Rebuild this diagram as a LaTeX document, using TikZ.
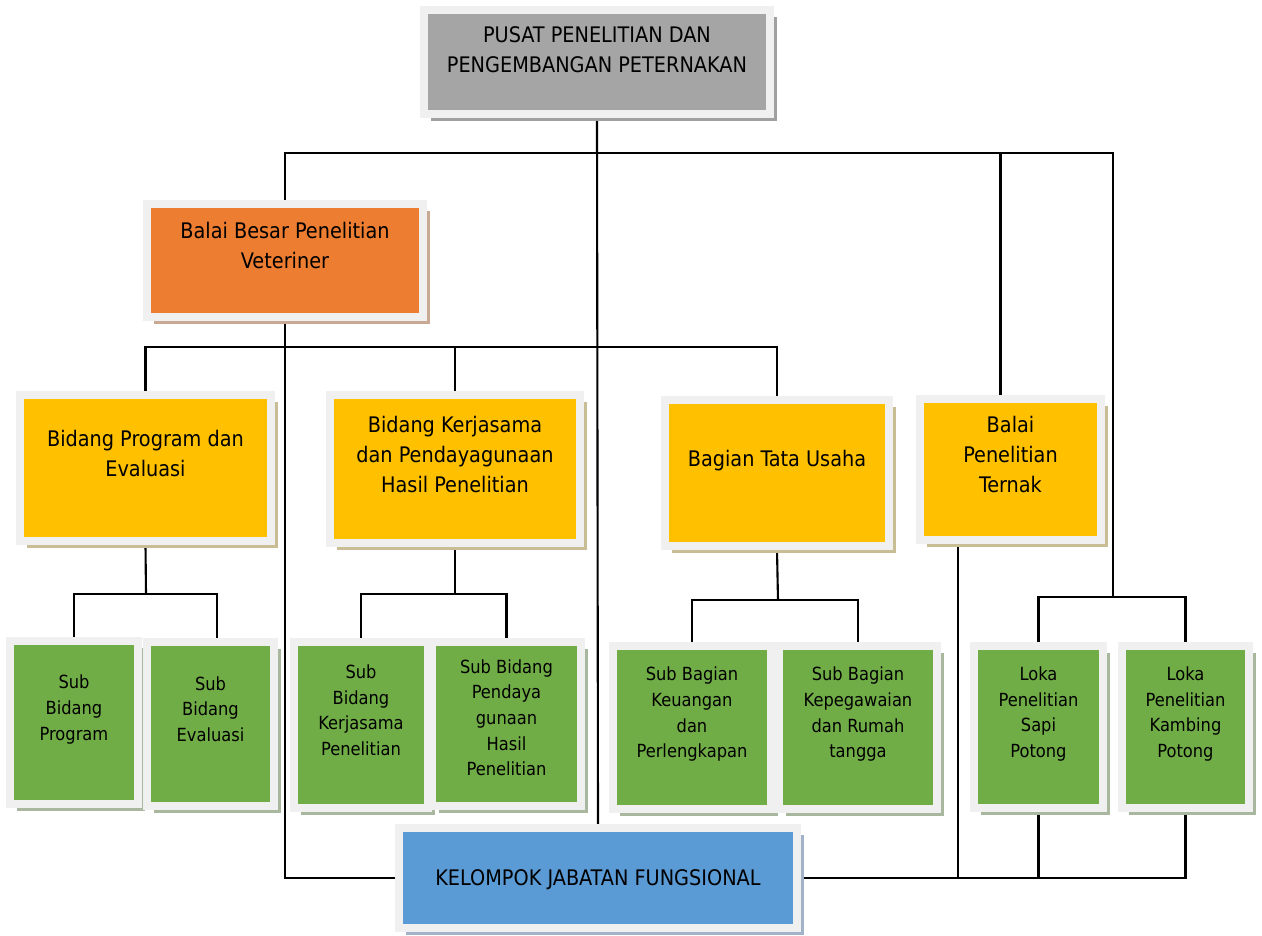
\documentclass[tikz,border=0pt]{standalone}
\usepackage{fontspec}
\setmainfont{DejaVu Sans Condensed}
\usetikzlibrary{positioning,shadows,backgrounds}

\definecolor{headgray}{HTML}{A5A5A5}
\definecolor{vetorange}{HTML}{ED7D31}
\definecolor{bidyellow}{HTML}{FFC000}
\definecolor{subgreen}{HTML}{70AD47}
\definecolor{fungblue}{HTML}{5B9BD5}
\definecolor{framegray}{HTML}{F0F0F0}
\definecolor{grayshade}{HTML}{A0A0A0}
\definecolor{orangeshade}{HTML}{C9A994}
\definecolor{yellowshade}{HTML}{C9BD95}
\definecolor{greenshade}{HTML}{A9B79E}
\definecolor{blueshade}{HTML}{A2B3C9}

\begin{document}
\begin{tikzpicture}[
  x=0.02cm, y=-0.02cm,
  box/.style={rectangle, draw=framegray, line width=0.16cm, align=center,
    inner sep=0pt, text depth=0.6cm,
    drop shadow={shadow xshift=0.14cm, shadow yshift=-0.14cm, fill=#1, opacity=1}},
  bigtext/.style={font=\fontsize{12.2}{17}\selectfont},
  smalltext/.style={font=\fontsize{10.3}{14.6}\selectfont},
  headbox/.style={box=grayshade, fill=headgray, bigtext},
  vetbox/.style={box=orangeshade, fill=vetorange, bigtext},
  bidbox/.style={box=yellowshade, fill=bidyellow, bigtext},
  subbox/.style={box=greenshade, fill=subgreen, smalltext},
  fungbox/.style={box=blueshade, fill=fungblue, bigtext},
  link/.style={draw, line width=1.2pt}
]
\useasboundingbox (0,0) rectangle (1262,936);

% kepala
\node[headbox, minimum width=6.92cm, minimum height=2.08cm, text depth=0.5cm] (pusat) at (597,62)
  {PUSAT PENELITIAN DAN\\PENGEMBANGAN PETERNAKAN};
\node[vetbox, minimum width=5.52cm, minimum height=2.26cm] (bbpv) at (285,260.5)
  {Balai Besar Penelitian\\Veteriner};

% bidang
\node[bidbox, minimum width=5.02cm, minimum height=2.92cm] (bpe) at (145.5,468)
  {Bidang Program dan\\Evaluasi};
\node[bidbox, minimum width=5.0cm, minimum height=2.96cm] (bkh) at (455,469)
  {Bidang Kerjasama\\dan Pendayagunaan\\Hasil Penelitian};
\node[bidbox, minimum width=4.48cm, minimum height=2.92cm] (ttu) at (777,473)
  {Bagian Tata Usaha};
\node[bidbox, minimum width=3.62cm, minimum height=2.82cm] (bpt) at (1010.5,469.5)
  {Balai\\Penelitian\\Ternak};

% sub bidang
\node[subbox, minimum width=2.56cm, minimum height=3.26cm] (sbp) at (74,722.5)
  {Sub\\Bidang\\Program};
\node[subbox, minimum width=2.54cm, minimum height=3.28cm] (sbe) at (210.5,724)
  {Sub\\Bidang\\Evaluasi};
\node[subbox, minimum width=2.68cm, minimum height=3.32cm] (sbk) at (361,725)
  {Sub\\Bidang\\Kerjasama\\Penelitian};
\node[subbox, minimum width=2.98cm, minimum height=3.28cm, text depth=0.25cm] (sbh) at (506.5,724)
  {Sub Bidang\\Pendaya\\gunaan\\Hasil\\Penelitian};
\node[subbox, minimum width=3.16cm, minimum height=3.26cm] (sbku) at (692,727.5)
  {Sub Bagian\\Keuangan\\dan\\Perlengkapan};
\node[subbox, minimum width=3.16cm, minimum height=3.26cm] (sbkr) at (858,727.5)
  {Sub Bagian\\Kepegawaian\\dan Rumah\\tangga};
\node[subbox, minimum width=2.58cm, minimum height=3.24cm] (lsp) at (1038.5,727)
  {Loka\\Penelitian\\Sapi\\Potong};
\node[subbox, minimum width=2.54cm, minimum height=3.24cm] (lkp) at (1185.5,727)
  {Loka\\Penelitian\\Kambing\\Potong};

% fungsional
\node[fungbox, minimum width=7.96cm, minimum height=2.0cm, text depth=0pt] (kjf) at (598,878)
  {KELOMPOK JABATAN FUNGSIONAL};

\begin{scope}[on background layer]
  \coordinate (topbus) at (1113,153);
  \coordinate (lokabus) at (1113,597);
  \coordinate (midbus) at (0,347);
  \coordinate (bpebus) at (146,594);
  \coordinate (bkhbus) at (455,594);
  \coordinate (ttubus) at (778,600);
  \coordinate (sbein) at ([xshift=0.13cm]sbe.north);
  \coordinate (bptin) at ([xshift=-0.2cm]bpt.north);
  \coordinate (bptout) at ([xshift=-1.05cm]bpt.south);

  \draw[link] (pusat.south) -- (kjf.north);
  \draw[link] (bbpv.north) |- (topbus) -- (lokabus);
  \draw[link] (bptin) -- (bptin |- topbus);
  \draw[link] (lsp.north) |- (lokabus) -| (lkp.north);

  \draw[link] (bpe.north) -- (bpe.north |- midbus) -| (ttu.north);
  \draw[link] (bkh.north) -- (bkh.north |- midbus);

  \draw[link] (bpe.south) -- (bpebus);
  \draw[link] (sbp.north) |- (bpebus) -| (sbein);
  \draw[link] (bkh.south) -- (bkhbus);
  \draw[link] (sbk.north) |- (bkhbus) -| (sbh.north);
  \draw[link] (ttu.south) -- (ttubus);
  \draw[link] (sbku.north) |- (ttubus) -| (sbkr.north);

  \draw[link] (bbpv.south) |- (kjf.west);
  \draw[link] (bptout) -- (bptout |- kjf.east);
  \draw[link] (kjf.east) -| (lkp.south);
  \draw[link] (lsp.south) -- (lsp.south |- kjf.east);
\end{scope}
\end{tikzpicture}
\end{document}
